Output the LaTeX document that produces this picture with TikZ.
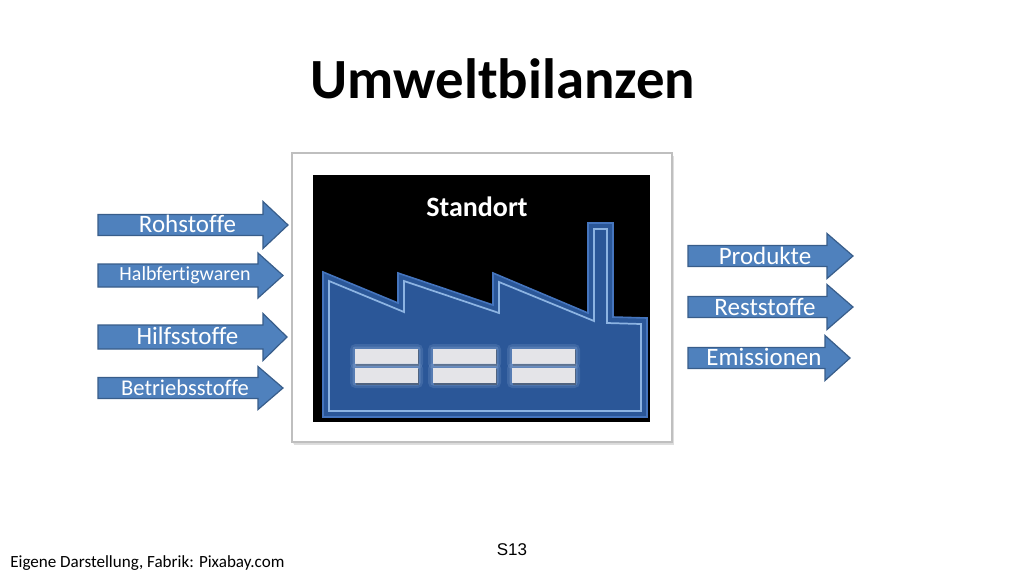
\documentclass[tikz,border=0pt]{standalone}
\usepackage{fontspec}
\setmainfont[Ligatures=NoCommon]{Carlito}
\newfontfamily\arialfont{Liberation Sans}
\definecolor{arrfill}{HTML}{4F81BD}
\definecolor{arrdraw}{HTML}{385D8A}
\definecolor{facfill}{HTML}{2B5798}
\definecolor{facedge}{HTML}{4575BE}
\definecolor{facline}{HTML}{8DB4E2}
\definecolor{winfill}{HTML}{E4E4E8}
\definecolor{winglow}{HTML}{9DB8E0}
\newcommand\flowarrow[6]{%
  \draw[flow] (#1,{#4-#5}) -- (#2,{#4-#5}) -- (#2,{#4-#6}) -- (#3,#4) -- (#2,{#4+#6}) -- (#2,{#4+#5}) -- (#1,{#4+#5}) -- cycle;}
\newcommand\facwindow[3]{%
  \fill[winglow,opacity=0.18,rounded corners=4] ({#1-5},{#2-5}) rectangle ({#1+63+5},{#2+15+5});
  \fill[winglow,opacity=0.25,rounded corners=2] ({#1-2.5},{#2-2.5}) rectangle ({#1+63+2.5},{#2+15+2.5});
  \fill[black!70,opacity=0.5] ({#1+1},{#2+1}) rectangle ({#1+64},{#2+16.5});
  \fill[winfill] (#1,#2) rectangle ({#1+63},{#2+15}) node[pos=0.5,inner sep=0pt] (#3) {};}
\begin{document}
\begin{tikzpicture}[x=0.75pt,y=-0.75pt,
  flow/.style={fill=arrfill,draw=arrdraw,line width=0.9pt,line join=miter},
  lbl/.style={text=white,inner sep=0pt,font=\fontsize{18.75}{20}\selectfont},
  lblsmall/.style={lbl,font=\fontsize{15}{17}\selectfont},
  lblmid/.style={lbl,font=\fontsize{16.9}{18}\selectfont}]
\useasboundingbox (0,0) rectangle (1024,576);
\fill[white] (0,0) rectangle (1024,576);
% title
\node[anchor=base,inner sep=0pt,font=\fontsize{42.6}{46}\selectfont\bfseries] (title) at (503,98) {Umweltbilanzen};
% frame with shadow
\fill[black!25,opacity=0.5] (294,156) rectangle (674,445);
\fill[black!15,opacity=0.5] (293,154) rectangle (673,444);
\draw[fill=white,draw=black!25,line width=0.8pt] (292,153) rectangle (672,442);
\fill[black] (313,175) rectangle (650,422);
% factory
\draw[fill=facfill,draw=facedge,line width=1.2pt,line join=miter] (323,417) -- (323,272) -- (398,303) -- (398,273) -- (493,305) -- (493,273) -- (588,313) -- (588,223) -- (613,223) -- (613,317) -- (647,318) -- (647,417) -- cycle;
\draw[facline,line width=1.3pt,line join=miter] (329,411) -- (329,281) -- (404,312) -- (404,281) -- (499,313) -- (499,282) -- (594,321) -- (594,229) -- (607,229) -- (607,323) -- (641,324) -- (641,411) -- cycle;
\facwindow{355}{349}{w1}
\facwindow{355}{368}{w2}
\facwindow{433}{349}{w3}
\facwindow{433}{368}{w4}
\facwindow{512}{349}{w5}
\facwindow{512}{368}{w6}
\node[anchor=base,inner sep=0pt,text=white,font=\fontsize{21}{24}\selectfont\bfseries] (standort) at (477,216) {Standort};
% input arrows
\flowarrow{98}{263}{288}{225}{10.5}{23.5}
\node[lbl] (roh) at (187.5,224) {Rohstoffe};
\flowarrow{98}{258}{283}{275.5}{11.5}{22.5}
\node[lblsmall] (halb) at (185,275) {Halbfertigwaren};
\flowarrow{98}{263}{287}{337}{12}{23.5}
\node[lbl] (hilf) at (187.5,336) {Hilfsstoffe};
\flowarrow{98}{258}{283}{388}{10.5}{21.5}
\node[lblmid] (betr) at (185,388) {Betriebsstoffe};
% output arrows
\flowarrow{688}{827}{853}{256}{10.5}{22.5}
\node[lbl] (prod) at (765,256) {Produkte};
\flowarrow{688}{827}{853}{307}{10.5}{22.5}
\node[lbl] (rest) at (765,307) {Reststoffe};
\flowarrow{688}{825}{850}{358}{10.5}{22.5}
\node[lbl] (emis) at (764,357) {Emissionen};
% footer
\node[anchor=base west,inner sep=0pt,font=\fontsize{12.8}{14}\selectfont] (src) at (10,567) {Eigene Darstellung, Fabrik: Pixabay.com};
\node[anchor=base,inner sep=0pt,font=\arialfont\fontsize{12.75}{14}\selectfont] (page) at (512,555) {S13};
\end{tikzpicture}
\end{document}
